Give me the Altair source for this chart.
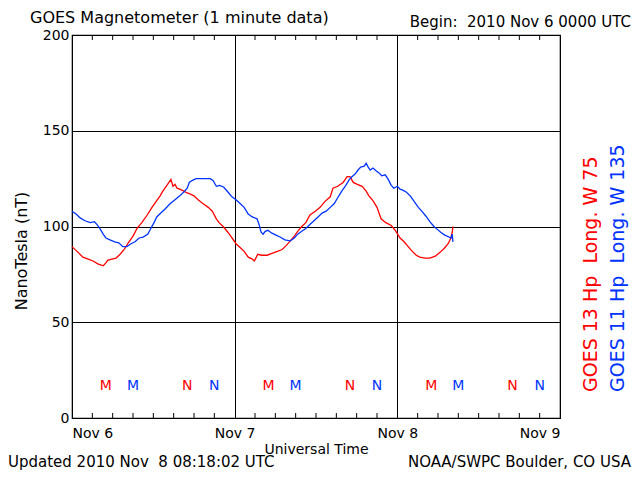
import altair as alt
import pandas as pd

# ---- data (hours since 2010 Nov 6 00:00 UT, nT) ----
red_hours = [0.0, 0.9, 1.6, 2.4, 3.1, 3.8, 4.6, 5.0, 5.3, 5.9, 6.5, 7.1, 7.7, 8.3, 9.0, 9.6,
             10.3, 11.1, 11.8, 12.5, 13.0, 13.4, 13.9, 14.3, 14.6, 14.9, 15.2, 15.5, 15.9,
             16.5, 17.0, 17.4, 18.0, 18.6, 19.3, 20.1, 20.7, 21.3, 21.7, 22.3, 23.0, 23.6,
             24.2, 24.8, 25.4, 26.0, 26.6, 26.9, 27.2, 27.4, 28.0, 28.8, 29.5, 30.3, 31.0,
             31.6, 32.2, 32.8, 33.3, 33.9, 34.5, 35.1, 35.9, 36.6, 37.3, 38.1, 38.5, 39.2,
             40.0, 40.6, 41.0, 41.5, 42.1, 42.8, 43.4, 43.8, 44.4, 45.0, 45.6, 46.3, 47.1,
             47.7, 48.4, 49.0, 49.6, 50.2, 50.8, 51.3, 52.1, 52.8, 53.6, 54.3, 54.9, 55.5,
             55.9, 56.1, 56.2]
red_nt = [89.5, 86.5, 84, 83, 82, 80.5, 79.5, 81, 82.5, 83, 83.5, 85.5, 88, 91.5, 95, 99,
          102, 106, 110, 113.5, 116, 118.5, 121, 123, 124.5, 121, 122, 120, 119.5,
          118.5, 117.5, 117, 116, 114, 112, 110, 108, 104, 102, 100, 97, 94,
          91, 89, 87, 84, 83, 82, 84, 85.5, 85, 85, 86, 87, 88,
          90, 92.5, 95, 97.5, 100, 102, 106, 108, 110, 113, 115.5, 120, 121,
          123, 126, 126, 123, 122, 121, 118.5, 116, 113.5, 110, 104, 102, 100.5,
          98, 94, 92, 89.5, 87, 85, 84, 83.5, 83.5, 84.5, 86.5, 88.5, 91,
          94, 97, 100]

blue_hours = [0.0, 0.6, 1.2, 1.9, 2.7, 3.3, 3.7, 4.1, 4.6, 5.0, 5.6, 6.3, 6.9, 7.5, 8.1, 8.7,
              9.3, 9.9, 10.5, 11.2, 11.7, 12.1, 12.5, 13.1, 13.7, 14.5, 15.2, 15.9, 16.5,
              17.0, 17.3, 17.7, 18.3, 18.9, 19.6, 20.4, 20.8, 21.3, 21.8, 22.4, 23.0, 23.6,
              24.2, 24.8, 25.4, 26.0, 26.6, 27.3, 27.6, 27.9, 28.2, 28.5, 28.9, 29.5, 30.1,
              30.7, 31.4, 32.2, 32.8, 33.3, 33.9, 34.5, 35.1, 35.7, 36.3, 36.9, 37.5, 38.1,
              38.7, 39.2, 39.8, 40.4, 40.9, 41.3, 41.8, 42.2, 42.6, 43.1, 43.4, 43.7, 44.0,
              44.4, 44.9, 45.3, 45.7, 46.2, 46.6, 47.1, 47.5, 48.0, 48.4, 48.8, 49.3, 49.9,
              50.5, 51.1, 51.6, 52.2, 52.8, 53.4, 53.9, 54.4, 55.0, 55.6, 55.9, 56.1, 56.2]
blue_nt = [108, 106.5, 104.5, 103, 102, 102.5, 101, 99, 96, 94, 93, 92, 91.5, 89.5, 89.5, 91,
           92, 94, 94.5, 96, 99.5, 102, 105, 107, 109, 112, 114, 116, 118,
           120, 123, 124, 125, 125, 125, 125, 124, 121, 121.5, 120.5, 118, 115.5,
           114, 112, 110, 106.5, 105, 104, 101, 97, 96, 97.5, 98, 96.5, 95.5,
           94.5, 93, 92.5, 94, 96, 97.5, 99, 101, 103, 105, 107, 108, 110,
           112, 115, 118.5, 121.5, 124.5, 126, 127.5, 129.5, 131, 131.5, 133, 131, 129.5,
           130.5, 129, 128, 126.5, 127, 125, 121.5, 120, 121, 119.5, 119, 118, 116,
           113, 110, 108, 105.5, 102.5, 100, 98.5, 97, 95.5, 94.5, 94, 96, 92]

series_names = ["GOES 13", "GOES 11"]
series_colors = ["#ff0000", "#0033ff"]

marker_hours = [5, 17, 29, 41, 53, 65, 9, 21, 33, 45, 57, 69]
marker_letters = ["M", "N", "M", "N", "M", "N", "M", "N", "M", "N", "M", "N"]
marker_series = ["GOES 13"] * 6 + ["GOES 11"] * 6
marker_level = 16.7

x_label_hours = [0, 24, 48, 72]
tick_hours = [3, 6, 9, 12, 15, 18, 21, 27, 30, 33, 36, 39, 42, 45, 51, 54, 57, 60, 63, 66, 69]
y_ticks = [0, 50, 100, 150, 200]

FONT = "DejaVu Sans"
W, H = 488, 383
NB = "\u00a0"

lines_df = pd.concat([
    pd.DataFrame({"hour": red_hours, "nT": red_nt, "sat": "GOES 13"}),
    pd.DataFrame({"hour": blue_hours, "nT": blue_nt, "sat": "GOES 11"}),
])
markers_df = pd.DataFrame({"hour": marker_hours, "letter": marker_letters,
                           "sat": marker_series, "nT": marker_level})
ticks_df = pd.DataFrame({"hour": tick_hours})

color = alt.Color("sat:N", scale=alt.Scale(domain=series_names, range=series_colors), legend=None)

x_enc = alt.X("hour:Q", scale=alt.Scale(domain=[0, 72], nice=False, zero=False),
              axis=alt.Axis(values=x_label_hours,
                            labelExpr="'Nov ' + (6 + datum.value / 24)",
                            grid=True, gridColor="black", gridOpacity=1, gridWidth=1,
                            ticks=False, domain=False, labelFontSize=14, labelFont=FONT,
                            labelColor="black", labelPadding=8,
                            title="Universal Time", titleFont=FONT, titleFontSize=14,
                            titleFontWeight="normal", titleColor="black", titlePadding=2))
y_enc = alt.Y("nT:Q", scale=alt.Scale(domain=[0, 200], nice=False),
              axis=alt.Axis(values=y_ticks, grid=True, gridColor="black", gridOpacity=1,
                            gridWidth=1, ticks=False, domain=False, labelFontSize=14,
                            labelFont=FONT, labelColor="black", labelPadding=3, title=None))

lines = alt.Chart(lines_df).mark_line(strokeWidth=1.3).encode(
    x=x_enc, y=y_enc, color=color, detail="sat:N")

tick_bottom = alt.Chart(ticks_df).mark_rule(color="black", strokeWidth=1).encode(
    x="hour:Q", y=alt.value(H), y2=alt.value(H - 5))
tick_top = alt.Chart(ticks_df).mark_rule(color="black", strokeWidth=1).encode(
    x="hour:Q", y=alt.value(0), y2=alt.value(5))

markers = alt.Chart(markers_df).mark_text(font=FONT, fontSize=14, baseline="middle").encode(
    x="hour:Q", y="nT:Q", text="letter:N", color=color)


def label(txt, x, y, size=16, align="left", angle=0, col="black"):
    return alt.Chart(pd.DataFrame({"t": [txt]})).mark_text(
        font=FONT, fontSize=size, align=align, angle=angle, color=col, baseline="alphabetic"
    ).encode(text="t:N", x=alt.value(x), y=alt.value(y))


texts = [
    label("GOES Magnetometer (1 minute data)", -42, -12, size=16),
    label("Begin:" + NB + " 2010 Nov 6 0000 UTC", 559, -8, size=15, align="right"),
    label("Updated 2010 Nov" + NB + " 8 08:18:02 UTC", -64, 432, size=15),
    label("NOAA/SWPC Boulder, CO USA", 559, 432, size=15, align="right"),
    label("NanoTesla (nT)", -45, 216, size=16, align="center", angle=270),
    label("GOES 13 Hp" + NB + " Long. W 75", 525, 357, size=19, angle=270, col=series_colors[0]),
    label("GOES 11 Hp" + NB + " Long. W 135", 552, 357, size=19, angle=270, col=series_colors[1]),
]

chart = alt.layer(lines, tick_bottom, tick_top, markers, *texts).properties(
    width=W, height=H,
    autosize=alt.AutoSizeParams(type="none"),
    padding={"left": 64, "top": 27, "right": 72, "bottom": 54},
    background="white",
).configure_view(stroke="black", strokeWidth=1.2)

chart.save("out.html", embed_options={"renderer": "svg", "actions": False})
